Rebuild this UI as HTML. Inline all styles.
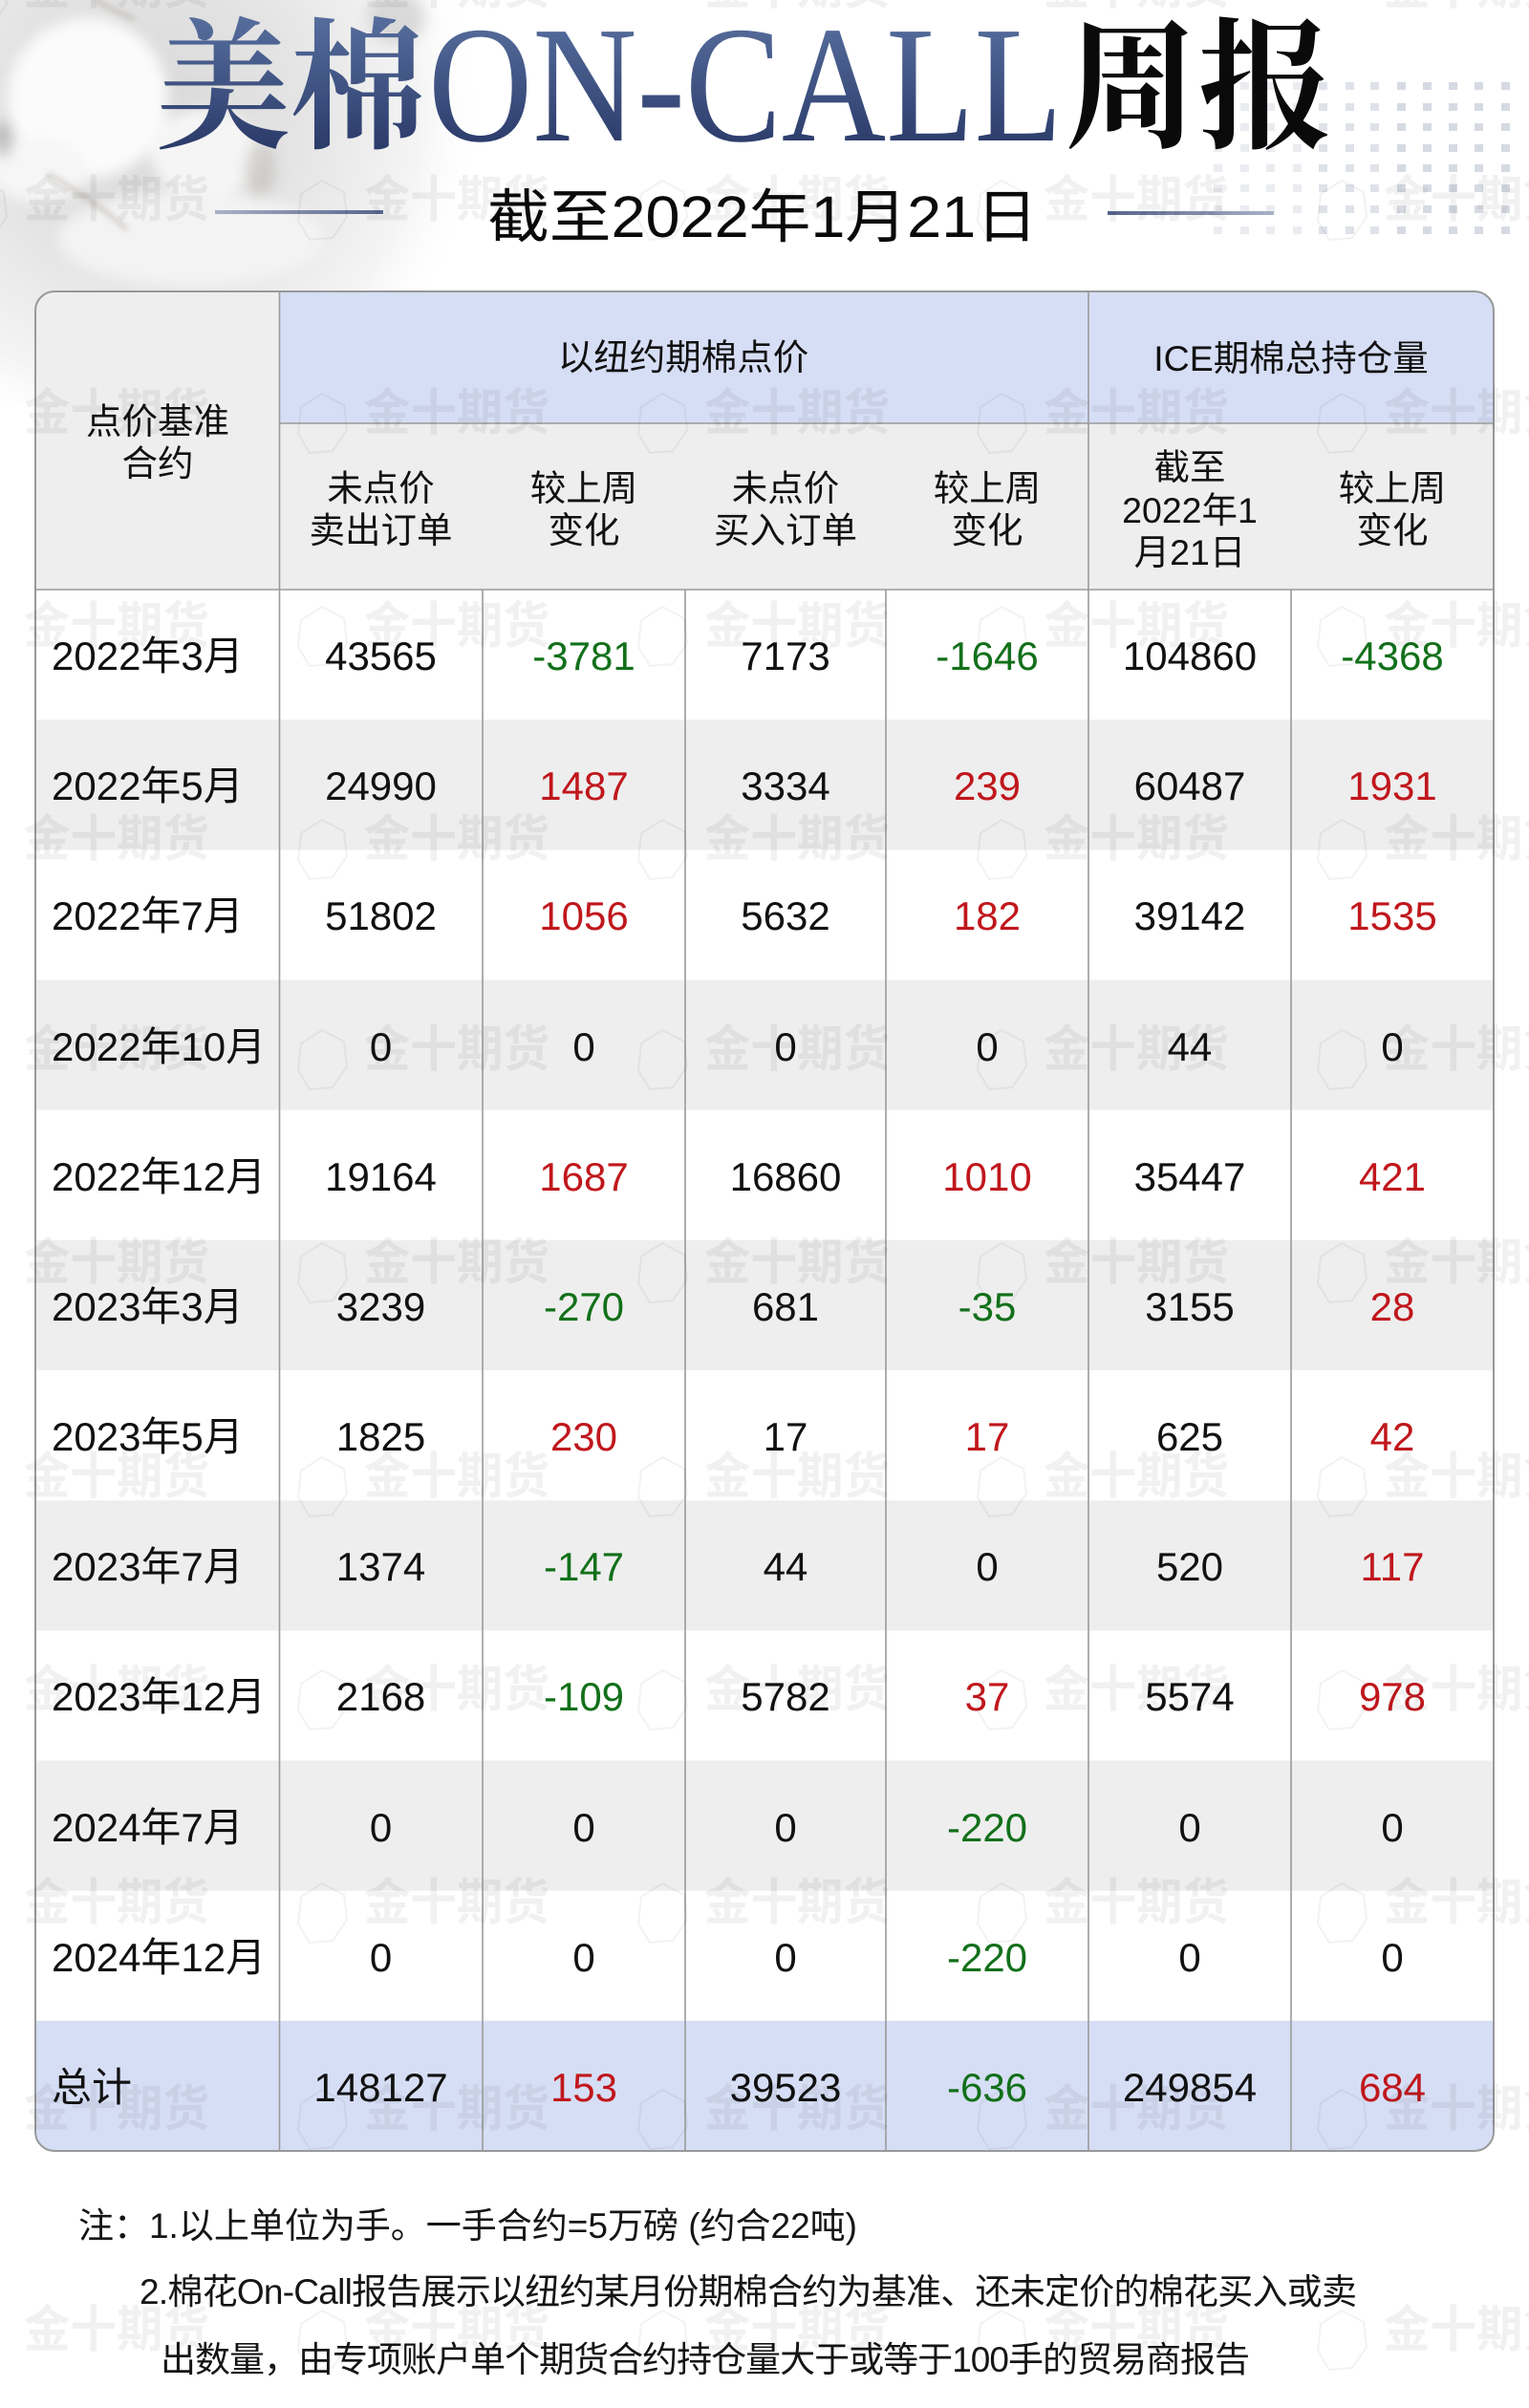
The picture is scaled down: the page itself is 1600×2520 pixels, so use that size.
<!DOCTYPE html>
<html><head><meta charset="utf-8">
<style>
html,body{margin:0;padding:0;background:#fff;}
svg{display:block;}
.s{font-family:"Liberation Sans","Noto Sans CJK SC",sans-serif;}
</style></head>
<body>
<svg width="1600" height="2520" viewBox="0 0 1600 2520" xmlns="http://www.w3.org/2000/svg">
<defs>
  <radialGradient id="bgc" cx="150" cy="120" r="360" gradientUnits="userSpaceOnUse">
    <stop offset="0" stop-color="#d8d8d8"/>
    <stop offset="0.45" stop-color="#e4e4e4"/>
    <stop offset="0.8" stop-color="#f4f4f4"/>
    <stop offset="1" stop-color="#ffffff" stop-opacity="0"/>
  </radialGradient>
  <linearGradient id="tg" x1="0" y1="20" x2="0" y2="155" gradientUnits="userSpaceOnUse">
    <stop offset="0" stop-color="#566d9c"/>
    <stop offset="1" stop-color="#2b3b6a"/>
  </linearGradient>
  <linearGradient id="ll" x1="225" y1="0" x2="401" y2="0" gradientUnits="userSpaceOnUse">
    <stop offset="0" stop-color="#a9b1c6"/>
    <stop offset="1" stop-color="#56648c"/>
  </linearGradient>
  <linearGradient id="rl" x1="1159" y1="0" x2="1333" y2="0" gradientUnits="userSpaceOnUse">
    <stop offset="0" stop-color="#56648c"/>
    <stop offset="1" stop-color="#aab2c7"/>
  </linearGradient>
  <filter id="bl" x="-20%" y="-20%" width="140%" height="140%"><feGaussianBlur stdDeviation="7"/></filter>
  <filter id="bl2" x="-20%" y="-20%" width="140%" height="140%"><feGaussianBlur stdDeviation="3"/></filter>
  <clipPath id="tbl"><rect x="37" y="305" width="1526" height="1946" rx="20" ry="20"/></clipPath>
</defs>

<rect x="0" y="0" width="1600" height="2520" fill="#ffffff"/>

<!-- cotton background -->
<rect x="0" y="0" width="560" height="420" fill="url(#bgc)"/>
<g filter="url(#bl)">
  <ellipse cx="92" cy="103" rx="84" ry="84" fill="#fbfbfb"/>
  <ellipse cx="40" cy="178" rx="52" ry="34" fill="#f6f6f6"/>
  <ellipse cx="215" cy="160" rx="58" ry="46" fill="#f5f5f5"/>
  <ellipse cx="272" cy="178" rx="16" ry="30" fill="#b9b5b0" opacity="0.5"/>
  <ellipse cx="415" cy="18" rx="30" ry="28" fill="#bdbdbd" opacity="0.5"/>
  <ellipse cx="4" cy="145" rx="9" ry="20" fill="#8c8c8c" opacity="0.5"/>
  <ellipse cx="200" cy="250" rx="140" ry="50" fill="#f3f3f3"/>
</g>
<g filter="url(#bl2)" opacity="0.55">
  <path d="M50 182 Q92 205 133 240" stroke="#b0a89c" stroke-width="4" fill="none"/>
  <path d="M100 0 Q120 12 140 20" stroke="#b0a89c" stroke-width="4" fill="none"/>
</g>

<!-- dot pattern -->
<g fill="#d2d6e0">
  <g opacity="0.45">
    <rect x="1270" y="151" width="9" height="8"/><rect x="1270" y="172" width="9" height="8"/><rect x="1270" y="193" width="9" height="8"/><rect x="1270" y="215" width="9" height="8"/><rect x="1270" y="237" width="9" height="8"/>
    <rect x="1298" y="86" width="9" height="8"/><rect x="1298" y="108" width="9" height="8"/><rect x="1298" y="129" width="9" height="8"/><rect x="1298" y="151" width="9" height="8"/><rect x="1298" y="172" width="9" height="8"/><rect x="1298" y="193" width="9" height="8"/><rect x="1298" y="215" width="9" height="8"/><rect x="1298" y="237" width="9" height="8"/>
    <rect x="1325" y="86" width="9" height="8"/><rect x="1325" y="108" width="9" height="8"/><rect x="1325" y="129" width="9" height="8"/><rect x="1325" y="151" width="9" height="8"/><rect x="1325" y="172" width="9" height="8"/><rect x="1325" y="193" width="9" height="8"/><rect x="1325" y="215" width="9" height="8"/><rect x="1325" y="237" width="9" height="8"/>
    <rect x="1353" y="86" width="9" height="8"/><rect x="1353" y="108" width="9" height="8"/><rect x="1353" y="129" width="9" height="8"/><rect x="1353" y="151" width="9" height="8"/><rect x="1353" y="172" width="9" height="8"/><rect x="1353" y="193" width="9" height="8"/><rect x="1353" y="215" width="9" height="8"/><rect x="1353" y="237" width="9" height="8"/>
  </g>
  <g opacity="0.7">
    <rect x="1380" y="86" width="9" height="8"/><rect x="1380" y="108" width="9" height="8"/><rect x="1380" y="129" width="9" height="8"/><rect x="1380" y="151" width="9" height="8"/><rect x="1380" y="172" width="9" height="8"/><rect x="1380" y="193" width="9" height="8"/><rect x="1380" y="215" width="9" height="8"/><rect x="1380" y="237" width="9" height="8"/>
    <rect x="1408" y="86" width="9" height="8"/><rect x="1408" y="108" width="9" height="8"/><rect x="1408" y="129" width="9" height="8"/><rect x="1408" y="151" width="9" height="8"/><rect x="1408" y="172" width="9" height="8"/><rect x="1408" y="193" width="9" height="8"/><rect x="1408" y="215" width="9" height="8"/><rect x="1408" y="237" width="9" height="8"/>
    <rect x="1434" y="86" width="9" height="8"/><rect x="1434" y="108" width="9" height="8"/><rect x="1434" y="129" width="9" height="8"/><rect x="1434" y="151" width="9" height="8"/><rect x="1434" y="172" width="9" height="8"/><rect x="1434" y="193" width="9" height="8"/><rect x="1434" y="215" width="9" height="8"/><rect x="1434" y="237" width="9" height="8"/>
  </g>
  <g opacity="0.9">
    <rect x="1462" y="86" width="9" height="8"/><rect x="1462" y="108" width="9" height="8"/><rect x="1462" y="129" width="9" height="8"/><rect x="1462" y="151" width="9" height="8"/><rect x="1462" y="172" width="9" height="8"/><rect x="1462" y="193" width="9" height="8"/><rect x="1462" y="215" width="9" height="8"/><rect x="1462" y="237" width="9" height="8"/>
    <rect x="1489" y="86" width="9" height="8"/><rect x="1489" y="108" width="9" height="8"/><rect x="1489" y="129" width="9" height="8"/><rect x="1489" y="151" width="9" height="8"/><rect x="1489" y="172" width="9" height="8"/><rect x="1489" y="193" width="9" height="8"/><rect x="1489" y="215" width="9" height="8"/><rect x="1489" y="237" width="9" height="8"/>
    <rect x="1516" y="86" width="9" height="8"/><rect x="1516" y="108" width="9" height="8"/><rect x="1516" y="129" width="9" height="8"/><rect x="1516" y="151" width="9" height="8"/><rect x="1516" y="172" width="9" height="8"/><rect x="1516" y="193" width="9" height="8"/><rect x="1516" y="215" width="9" height="8"/><rect x="1516" y="237" width="9" height="8"/>
    <rect x="1543" y="86" width="9" height="8"/><rect x="1543" y="108" width="9" height="8"/><rect x="1543" y="129" width="9" height="8"/><rect x="1543" y="151" width="9" height="8"/><rect x="1543" y="172" width="9" height="8"/><rect x="1543" y="193" width="9" height="8"/><rect x="1543" y="215" width="9" height="8"/><rect x="1543" y="237" width="9" height="8"/>
    <rect x="1571" y="86" width="9" height="8"/><rect x="1571" y="108" width="9" height="8"/><rect x="1571" y="129" width="9" height="8"/><rect x="1571" y="151" width="9" height="8"/><rect x="1571" y="172" width="9" height="8"/><rect x="1571" y="193" width="9" height="8"/><rect x="1571" y="215" width="9" height="8"/><rect x="1571" y="237" width="9" height="8"/>
  </g>
</g>

<!-- title -->
<text x="163" y="143" font-family="'Liberation Serif','Noto Serif CJK SC',serif" font-weight="bold" font-size="148" fill="url(#tg)" textLength="282" lengthAdjust="spacingAndGlyphs">美棉</text>
<text x="448" y="147" font-family="'Liberation Serif',serif" font-size="174" fill="url(#tg)" textLength="664" lengthAdjust="spacingAndGlyphs">ON-CALL</text>
<text x="1114" y="143" font-family="'Liberation Serif','Noto Serif CJK SC',serif" font-weight="bold" font-size="148" fill="#0a0a0a" textLength="280" lengthAdjust="spacingAndGlyphs">周报</text>

<!-- subtitle -->
<rect x="225" y="220" width="176" height="4" fill="url(#ll)"/>
<rect x="1159" y="221" width="174" height="4" fill="url(#rl)"/>
<text class="s" x="510" y="248" font-size="61" fill="#0a0a0a" textLength="576" lengthAdjust="spacingAndGlyphs">截至2022年1月21日</text>

<!-- table backgrounds -->
<g clip-path="url(#tbl)">
  <rect x="37" y="305" width="1526" height="1946" fill="#ffffff"/>
  <rect x="37" y="305" width="256" height="312" fill="#eeeeee"/>
  <rect x="292" y="305" width="1271" height="138" fill="#d6def5"/>
  <rect x="292" y="443" width="1271" height="174" fill="#eeeeee"/>
  <rect x="37" y="753.2" width="1526" height="136.2" fill="#eeeeee"/>
  <rect x="37" y="1025.5" width="1526" height="136.2" fill="#eeeeee"/>
  <rect x="37" y="1297.8" width="1526" height="136.2" fill="#eeeeee"/>
  <rect x="37" y="1570.2" width="1526" height="136.2" fill="#eeeeee"/>
  <rect x="37" y="1842.5" width="1526" height="136.2" fill="#eeeeee"/>
  <rect x="37" y="2114.8" width="1526" height="136.2" fill="#d6def5"/>
</g>

<!-- table lines -->
<g stroke="#9a9a9a" stroke-width="1.6" fill="none">
  <line x1="292.5" y1="305" x2="292.5" y2="2251"/>
  <line x1="1139" y1="305" x2="1139" y2="2251"/>
  <line x1="505" y1="617" x2="505" y2="2251"/>
  <line x1="717" y1="617" x2="717" y2="2251"/>
  <line x1="927" y1="617" x2="927" y2="2251"/>
  <line x1="1351" y1="617" x2="1351" y2="2251"/>
  <line x1="292" y1="443" x2="1563" y2="443"/>
  <line x1="37" y1="617" x2="1563" y2="617"/>
</g>
<rect x="37" y="305" width="1526" height="1946" rx="20" ry="20" fill="none" stroke="#999999" stroke-width="2"/>

<!-- header text -->
<g class="s" font-size="37.5" fill="#111" text-anchor="middle">
  <text x="165" y="454">点价基准</text>
  <text x="165" y="498">合约</text>
  <text x="715" y="387">以纽约期棉点价</text>
  <text x="1351" y="388">ICE期棉总持仓量</text>
  <text x="398.5" y="524">未点价</text><text x="398.5" y="568">卖出订单</text>
  <text x="611" y="524">较上周</text><text x="611" y="568">变化</text>
  <text x="822" y="524">未点价</text><text x="822" y="568">买入订单</text>
  <text x="1033" y="524">较上周</text><text x="1033" y="568">变化</text>
  <text x="1245" y="502">截至</text><text x="1245" y="547">2022年1</text><text x="1245" y="591">月21日</text>
  <text x="1457" y="524">较上周</text><text x="1457" y="568">变化</text>
</g>

<!-- row labels -->
<g class="s" font-size="42" fill="#111">
  <text x="54" y="701">2022年3月</text>
  <text x="54" y="837">2022年5月</text>
  <text x="54" y="973">2022年7月</text>
  <text x="54" y="1110">2022年10月</text>
  <text x="54" y="1246">2022年12月</text>
  <text x="54" y="1382">2023年3月</text>
  <text x="54" y="1518">2023年5月</text>
  <text x="54" y="1654">2023年7月</text>
  <text x="54" y="1790">2023年12月</text>
  <text x="54" y="1927">2024年7月</text>
  <text x="54" y="2063">2024年12月</text>
  <text x="54" y="2199">总计</text>
</g>

<!-- data -->
<g class="s" font-size="42" text-anchor="middle">
  <g fill="#111">
    <text x="398.5" y="701">43565</text><text x="822" y="701">7173</text><text x="1245" y="701">104860</text>
    <text x="398.5" y="837">24990</text><text x="822" y="837">3334</text><text x="1245" y="837">60487</text>
    <text x="398.5" y="973">51802</text><text x="822" y="973">5632</text><text x="1245" y="973">39142</text>
    <text x="398.5" y="1110">0</text><text x="611" y="1110">0</text><text x="822" y="1110">0</text><text x="1033" y="1110">0</text><text x="1245" y="1110">44</text><text x="1457" y="1110">0</text>
    <text x="398.5" y="1246">19164</text><text x="822" y="1246">16860</text><text x="1245" y="1246">35447</text>
    <text x="398.5" y="1382">3239</text><text x="822" y="1382">681</text><text x="1245" y="1382">3155</text>
    <text x="398.5" y="1518">1825</text><text x="822" y="1518">17</text><text x="1245" y="1518">625</text>
    <text x="398.5" y="1654">1374</text><text x="822" y="1654">44</text><text x="1033" y="1654">0</text><text x="1245" y="1654">520</text>
    <text x="398.5" y="1790">2168</text><text x="822" y="1790">5782</text><text x="1245" y="1790">5574</text>
    <text x="398.5" y="1927">0</text><text x="611" y="1927">0</text><text x="822" y="1927">0</text><text x="1245" y="1927">0</text><text x="1457" y="1927">0</text>
    <text x="398.5" y="2063">0</text><text x="611" y="2063">0</text><text x="822" y="2063">0</text><text x="1245" y="2063">0</text><text x="1457" y="2063">0</text>
    <text x="398.5" y="2199">148127</text><text x="822" y="2199">39523</text><text x="1245" y="2199">249854</text>
  </g>
  <g fill="#12701a">
    <text x="611" y="701">-3781</text><text x="1033" y="701">-1646</text><text x="1457" y="701">-4368</text>
    <text x="611" y="1382">-270</text><text x="1033" y="1382">-35</text>
    <text x="611" y="1654">-147</text>
    <text x="611" y="1790">-109</text>
    <text x="1033" y="1927">-220</text>
    <text x="1033" y="2063">-220</text>
    <text x="1033" y="2199">-636</text>
  </g>
  <g fill="#c0171c">
    <text x="611" y="837">1487</text><text x="1033" y="837">239</text><text x="1457" y="837">1931</text>
    <text x="611" y="973">1056</text><text x="1033" y="973">182</text><text x="1457" y="973">1535</text>
    <text x="611" y="1246">1687</text><text x="1033" y="1246">1010</text><text x="1457" y="1246">421</text>
    <text x="1457" y="1382">28</text>
    <text x="611" y="1518">230</text><text x="1033" y="1518">17</text><text x="1457" y="1518">42</text>
    <text x="1457" y="1654">117</text>
    <text x="1033" y="1790">37</text><text x="1457" y="1790">978</text>
    <text x="611" y="2199">153</text><text x="1457" y="2199">684</text>
  </g>
</g>

<!-- notes -->
<g class="s" font-size="37" fill="#151515">
  <text x="82" y="2342" textLength="815" lengthAdjust="spacing">注：1.以上单位为手。一手合约=5万磅 (约合22吨)</text>
  <text x="146" y="2411" textLength="1274" lengthAdjust="spacing">2.棉花On-Call报告展示以纽约某月份期棉合约为基准、还未定价的棉花买入或卖</text>
  <text x="168" y="2482" textLength="1140" lengthAdjust="spacing">出数量，由专项账户单个期货合约持仓量大于或等于100手的贸易商报告</text>
</g>

<!-- watermarks -->
<g class="s" fill="#000" fill-opacity="0.055" font-weight="bold" font-size="52">
  <text x="25" y="4" textLength="194" lengthAdjust="spacingAndGlyphs">金十期货</text><text x="381" y="4" textLength="194" lengthAdjust="spacingAndGlyphs">金十期货</text><text x="737" y="4" textLength="194" lengthAdjust="spacingAndGlyphs">金十期货</text><text x="1092" y="4" textLength="194" lengthAdjust="spacingAndGlyphs">金十期货</text><text x="1448" y="4" textLength="194" lengthAdjust="spacingAndGlyphs">金十期货</text>
  <text x="25" y="227" textLength="194" lengthAdjust="spacingAndGlyphs">金十期货</text><text x="381" y="227" textLength="194" lengthAdjust="spacingAndGlyphs">金十期货</text><text x="737" y="227" textLength="194" lengthAdjust="spacingAndGlyphs">金十期货</text><text x="1092" y="227" textLength="194" lengthAdjust="spacingAndGlyphs">金十期货</text><text x="1448" y="227" textLength="194" lengthAdjust="spacingAndGlyphs">金十期货</text>
  <text x="25" y="450" textLength="194" lengthAdjust="spacingAndGlyphs">金十期货</text><text x="381" y="450" textLength="194" lengthAdjust="spacingAndGlyphs">金十期货</text><text x="737" y="450" textLength="194" lengthAdjust="spacingAndGlyphs">金十期货</text><text x="1092" y="450" textLength="194" lengthAdjust="spacingAndGlyphs">金十期货</text><text x="1448" y="450" textLength="194" lengthAdjust="spacingAndGlyphs">金十期货</text>
  <text x="25" y="673" textLength="194" lengthAdjust="spacingAndGlyphs">金十期货</text><text x="381" y="673" textLength="194" lengthAdjust="spacingAndGlyphs">金十期货</text><text x="737" y="673" textLength="194" lengthAdjust="spacingAndGlyphs">金十期货</text><text x="1092" y="673" textLength="194" lengthAdjust="spacingAndGlyphs">金十期货</text><text x="1448" y="673" textLength="194" lengthAdjust="spacingAndGlyphs">金十期货</text>
  <text x="25" y="896" textLength="194" lengthAdjust="spacingAndGlyphs">金十期货</text><text x="381" y="896" textLength="194" lengthAdjust="spacingAndGlyphs">金十期货</text><text x="737" y="896" textLength="194" lengthAdjust="spacingAndGlyphs">金十期货</text><text x="1092" y="896" textLength="194" lengthAdjust="spacingAndGlyphs">金十期货</text><text x="1448" y="896" textLength="194" lengthAdjust="spacingAndGlyphs">金十期货</text>
  <text x="25" y="1116" textLength="194" lengthAdjust="spacingAndGlyphs">金十期货</text><text x="381" y="1116" textLength="194" lengthAdjust="spacingAndGlyphs">金十期货</text><text x="737" y="1116" textLength="194" lengthAdjust="spacingAndGlyphs">金十期货</text><text x="1092" y="1116" textLength="194" lengthAdjust="spacingAndGlyphs">金十期货</text><text x="1448" y="1116" textLength="194" lengthAdjust="spacingAndGlyphs">金十期货</text>
  <text x="25" y="1339" textLength="194" lengthAdjust="spacingAndGlyphs">金十期货</text><text x="381" y="1339" textLength="194" lengthAdjust="spacingAndGlyphs">金十期货</text><text x="737" y="1339" textLength="194" lengthAdjust="spacingAndGlyphs">金十期货</text><text x="1092" y="1339" textLength="194" lengthAdjust="spacingAndGlyphs">金十期货</text><text x="1448" y="1339" textLength="194" lengthAdjust="spacingAndGlyphs">金十期货</text>
  <text x="25" y="1563" textLength="194" lengthAdjust="spacingAndGlyphs">金十期货</text><text x="381" y="1563" textLength="194" lengthAdjust="spacingAndGlyphs">金十期货</text><text x="737" y="1563" textLength="194" lengthAdjust="spacingAndGlyphs">金十期货</text><text x="1092" y="1563" textLength="194" lengthAdjust="spacingAndGlyphs">金十期货</text><text x="1448" y="1563" textLength="194" lengthAdjust="spacingAndGlyphs">金十期货</text>
  <text x="25" y="1786" textLength="194" lengthAdjust="spacingAndGlyphs">金十期货</text><text x="381" y="1786" textLength="194" lengthAdjust="spacingAndGlyphs">金十期货</text><text x="737" y="1786" textLength="194" lengthAdjust="spacingAndGlyphs">金十期货</text><text x="1092" y="1786" textLength="194" lengthAdjust="spacingAndGlyphs">金十期货</text><text x="1448" y="1786" textLength="194" lengthAdjust="spacingAndGlyphs">金十期货</text>
  <text x="25" y="2009" textLength="194" lengthAdjust="spacingAndGlyphs">金十期货</text><text x="381" y="2009" textLength="194" lengthAdjust="spacingAndGlyphs">金十期货</text><text x="737" y="2009" textLength="194" lengthAdjust="spacingAndGlyphs">金十期货</text><text x="1092" y="2009" textLength="194" lengthAdjust="spacingAndGlyphs">金十期货</text><text x="1448" y="2009" textLength="194" lengthAdjust="spacingAndGlyphs">金十期货</text>
  <text x="25" y="2225" textLength="194" lengthAdjust="spacingAndGlyphs">金十期货</text><text x="381" y="2225" textLength="194" lengthAdjust="spacingAndGlyphs">金十期货</text><text x="737" y="2225" textLength="194" lengthAdjust="spacingAndGlyphs">金十期货</text><text x="1092" y="2225" textLength="194" lengthAdjust="spacingAndGlyphs">金十期货</text><text x="1448" y="2225" textLength="194" lengthAdjust="spacingAndGlyphs">金十期货</text>
  <text x="25" y="2456" textLength="194" lengthAdjust="spacingAndGlyphs">金十期货</text><text x="381" y="2456" textLength="194" lengthAdjust="spacingAndGlyphs">金十期货</text><text x="737" y="2456" textLength="194" lengthAdjust="spacingAndGlyphs">金十期货</text><text x="1092" y="2456" textLength="194" lengthAdjust="spacingAndGlyphs">金十期货</text><text x="1448" y="2456" textLength="194" lengthAdjust="spacingAndGlyphs">金十期货</text>
</g>
<g fill="none" stroke="#000" stroke-opacity="0.05" stroke-width="2">
  <path d="M-19 -34 L4 -22 L7 4 L-8 26 L-32 28 L-44 8 L-41 -20 Z"/>
  <path d="M-19 189 L4 201 L7 227 L-8 249 L-32 251 L-44 231 L-41 203 Z"/>
  <path d="M337 189 L360 201 L363 227 L348 249 L324 251 L312 231 L315 203 Z"/>
  <path d="M693 189 L716 201 L719 227 L704 249 L680 251 L668 231 L671 203 Z"/>
  <path d="M1048 189 L1071 201 L1074 227 L1059 249 L1035 251 L1023 231 L1026 203 Z"/>
  <path d="M1404 189 L1427 201 L1430 227 L1415 249 L1391 251 L1379 231 L1382 203 Z"/>
  <path d="M337 412 L360 424 L363 450 L348 472 L324 474 L312 454 L315 426 Z"/>
  <path d="M693 412 L716 424 L719 450 L704 472 L680 474 L668 454 L671 426 Z"/>
  <path d="M1048 412 L1071 424 L1074 450 L1059 472 L1035 474 L1023 454 L1026 426 Z"/>
  <path d="M1404 412 L1427 424 L1430 450 L1415 472 L1391 474 L1379 454 L1382 426 Z"/>
  <path d="M337 635 L360 647 L363 673 L348 695 L324 697 L312 677 L315 649 Z"/>
  <path d="M693 635 L716 647 L719 673 L704 695 L680 697 L668 677 L671 649 Z"/>
  <path d="M1048 635 L1071 647 L1074 673 L1059 695 L1035 697 L1023 677 L1026 649 Z"/>
  <path d="M1404 635 L1427 647 L1430 673 L1415 695 L1391 697 L1379 677 L1382 649 Z"/>
  <path d="M337 858 L360 870 L363 896 L348 918 L324 920 L312 900 L315 872 Z"/>
  <path d="M693 858 L716 870 L719 896 L704 918 L680 920 L668 900 L671 872 Z"/>
  <path d="M1048 858 L1071 870 L1074 896 L1059 918 L1035 920 L1023 900 L1026 872 Z"/>
  <path d="M1404 858 L1427 870 L1430 896 L1415 918 L1391 920 L1379 900 L1382 872 Z"/>
  <path d="M337 1078 L360 1090 L363 1116 L348 1138 L324 1140 L312 1120 L315 1092 Z"/>
  <path d="M693 1078 L716 1090 L719 1116 L704 1138 L680 1140 L668 1120 L671 1092 Z"/>
  <path d="M1048 1078 L1071 1090 L1074 1116 L1059 1138 L1035 1140 L1023 1120 L1026 1092 Z"/>
  <path d="M1404 1078 L1427 1090 L1430 1116 L1415 1138 L1391 1140 L1379 1120 L1382 1092 Z"/>
  <path d="M337 1301 L360 1313 L363 1339 L348 1361 L324 1363 L312 1343 L315 1315 Z"/>
  <path d="M693 1301 L716 1313 L719 1339 L704 1361 L680 1363 L668 1343 L671 1315 Z"/>
  <path d="M1048 1301 L1071 1313 L1074 1339 L1059 1361 L1035 1363 L1023 1343 L1026 1315 Z"/>
  <path d="M1404 1301 L1427 1313 L1430 1339 L1415 1361 L1391 1363 L1379 1343 L1382 1315 Z"/>
  <path d="M337 1525 L360 1537 L363 1563 L348 1585 L324 1587 L312 1567 L315 1539 Z"/>
  <path d="M693 1525 L716 1537 L719 1563 L704 1585 L680 1587 L668 1567 L671 1539 Z"/>
  <path d="M1048 1525 L1071 1537 L1074 1563 L1059 1585 L1035 1587 L1023 1567 L1026 1539 Z"/>
  <path d="M1404 1525 L1427 1537 L1430 1563 L1415 1585 L1391 1587 L1379 1567 L1382 1539 Z"/>
  <path d="M337 1748 L360 1760 L363 1786 L348 1808 L324 1810 L312 1790 L315 1762 Z"/>
  <path d="M693 1748 L716 1760 L719 1786 L704 1808 L680 1810 L668 1790 L671 1762 Z"/>
  <path d="M1048 1748 L1071 1760 L1074 1786 L1059 1808 L1035 1810 L1023 1790 L1026 1762 Z"/>
  <path d="M1404 1748 L1427 1760 L1430 1786 L1415 1808 L1391 1810 L1379 1790 L1382 1762 Z"/>
  <path d="M337 1971 L360 1983 L363 2009 L348 2031 L324 2033 L312 2013 L315 1985 Z"/>
  <path d="M693 1971 L716 1983 L719 2009 L704 2031 L680 2033 L668 2013 L671 1985 Z"/>
  <path d="M1048 1971 L1071 1983 L1074 2009 L1059 2031 L1035 2033 L1023 2013 L1026 1985 Z"/>
  <path d="M1404 1971 L1427 1983 L1430 2009 L1415 2031 L1391 2033 L1379 2013 L1382 1985 Z"/>
  <path d="M337 2187 L360 2199 L363 2225 L348 2247 L324 2249 L312 2229 L315 2201 Z"/>
  <path d="M693 2187 L716 2199 L719 2225 L704 2247 L680 2249 L668 2229 L671 2201 Z"/>
  <path d="M1048 2187 L1071 2199 L1074 2225 L1059 2247 L1035 2249 L1023 2229 L1026 2201 Z"/>
  <path d="M1404 2187 L1427 2199 L1430 2225 L1415 2247 L1391 2249 L1379 2229 L1382 2201 Z"/>
  <path d="M337 2418 L360 2430 L363 2456 L348 2478 L324 2480 L312 2460 L315 2432 Z"/>
  <path d="M693 2418 L716 2430 L719 2456 L704 2478 L680 2480 L668 2460 L671 2432 Z"/>
  <path d="M1048 2418 L1071 2430 L1074 2456 L1059 2478 L1035 2480 L1023 2460 L1026 2432 Z"/>
  <path d="M1404 2418 L1427 2430 L1430 2456 L1415 2478 L1391 2480 L1379 2460 L1382 2432 Z"/>
</g>
</svg>
</body></html>
